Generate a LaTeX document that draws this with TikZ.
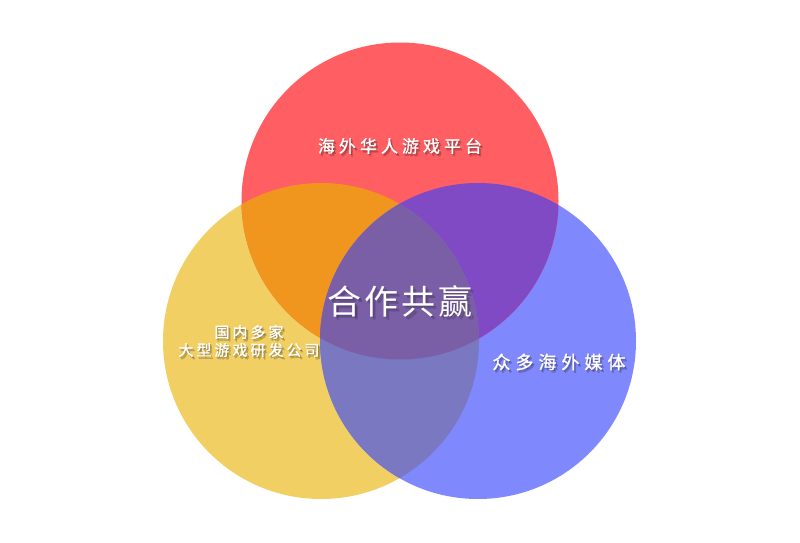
\documentclass[tikz,border=0pt]{standalone}
\usepackage{fontspec}
\newfontfamily\cjk[FakeBold=1.2]{Noto Sans CJK SC}
\newfontfamily\cjkc{Noto Sans CJK SC}
\definecolor{cr}{HTML}{FF5F62}
\definecolor{cy}{HTML}{F2CF63}
\definecolor{cb}{HTML}{8088FE}
\definecolor{cry}{HTML}{F0961F}
\definecolor{crb}{HTML}{804AC4}
\definecolor{cyb}{HTML}{7A78C0}
\definecolor{cc}{HTML}{7B5FA6}
\def\R{(400,201) circle (158.5pt)}
\def\Y{(321,341) circle (158pt)}
\def\B{(478,341) circle (158pt)}
\begin{document}
\begin{tikzpicture}[x=1pt,y=-1pt,
  lbl/.style={text=white,inner sep=0pt,align=center},
  shd/.style={text=black,text opacity=0.18,inner sep=0pt,align=center},
  ftitle/.style={font=\cjk\fontsize{17}{20}\selectfont},
  fcenter/.style={font=\cjkc\fontsize{34}{40}\selectfont},
  fyel/.style={font=\cjk\fontsize{15}{18}\selectfont},
  fblue/.style={font=\cjk\fontsize{18}{22}\selectfont}]
\fill[white] (0,0) rectangle (800,543);
\useasboundingbox (0,0) rectangle (800,543);
\fill[cy] \Y;
\fill[cb] \B;
\fill[cr] \R;
\begin{scope}\clip \R; \fill[cry] \Y; \end{scope}
\begin{scope}\clip \R; \fill[crb] \B; \end{scope}
\begin{scope}\clip \Y; \fill[cyb] \B; \end{scope}
\begin{scope}\clip \R; \clip \Y; \fill[cc] \B; \end{scope}
\def\tA{海\kern4pt外\kern4pt华\kern4pt人\kern4pt游\kern4pt戏\kern4pt平\kern4pt台}
\def\tB{合\kern3pt作\kern3pt共\kern3pt赢}
\def\tC{国\kern3pt内\kern3pt多\kern3pt家\\大\kern3pt型\kern3pt游\kern3pt戏\kern3pt研\kern3pt发\kern3pt公\kern3pt司}
\def\tD{众\kern5pt多\kern5pt海\kern5pt外\kern5pt媒\kern5pt体}
\node[shd,ftitle] (ts1) at (401,147) {\tA};
\node[shd,ftitle] (ts2) at (402,148.5) {\tA};
\node[lbl,ftitle] (t) at (400,146) {\tA};
\node[shd,fcenter] (cs1) at (401.5,302.5) {\tB};
\node[shd,fcenter] (cs2) at (403,304) {\tB};
\node[lbl,fcenter] (c) at (400,301) {\tB};
\node[shd,fyel] (ys1) at (250,342) {\tC};
\node[shd,fyel] (ys2) at (251,343.5) {\tC};
\node[lbl,fyel] (y) at (249,341) {\tC};
\node[shd,fblue] (bs1) at (560,363) {\tD};
\node[shd,fblue] (bs2) at (561,364.5) {\tD};
\node[lbl,fblue] (b) at (559,362) {\tD};
\end{tikzpicture}
\end{document}
